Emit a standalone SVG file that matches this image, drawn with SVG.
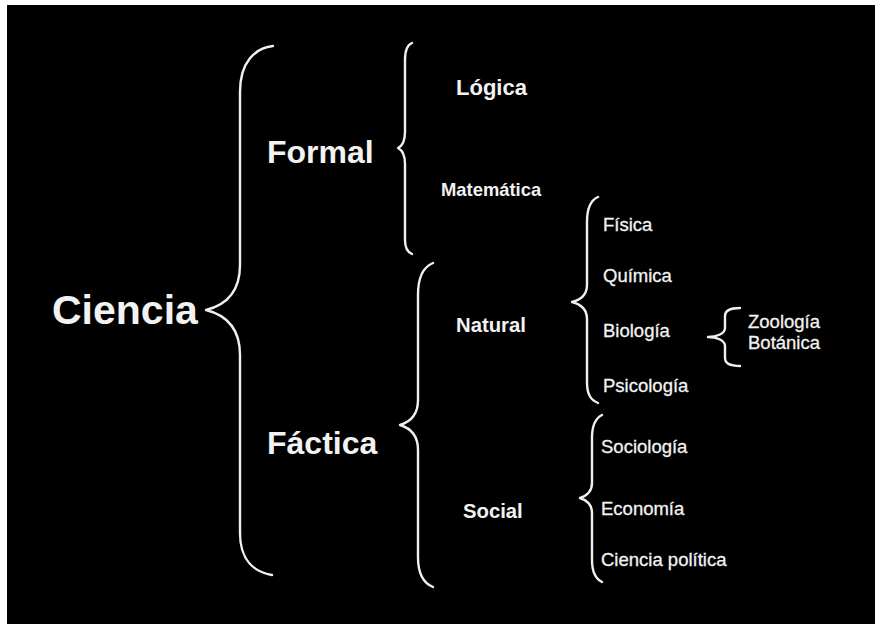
<svg xmlns="http://www.w3.org/2000/svg" width="875" height="624" viewBox="0 0 875 624">
<style>
.br{fill:none;stroke:#f0f0f0;stroke-width:2.4;stroke-linecap:round;stroke-linejoin:round}
text{font-family:"Liberation Sans",Arial,Helvetica,sans-serif;fill:#f2f2f2}
.b{font-weight:bold}
.r{font-size:18.5px;stroke:#f2f2f2;stroke-width:0.3}
</style>
<rect x="0" y="0" width="875" height="624" fill="#ffffff"/>
<rect x="7" y="5" width="868" height="619" fill="#000000"/>
<g id="connectors">
<path class="br" d="M273,46 C255,48 240,62 240,92 L240,265 C240,292 226,305 206,310 C226,315 240,328 240,355 L240,533 C240,560 254,572 272,575"/>
<path class="br" d="M412,43 C407,45 405,50 405,60 L405,132 C405,142 402,146 398,148 C402,150 405,154 405,164 L405,240 C405,248 407,252 412,254"/>
<path class="br" d="M433,263 C423,267 418,278 418,295 L418,400 C418,415 410,422 400,425 C410,428 418,435 418,450 L418,557 C418,574 423,583 433,587"/>
<path class="br" d="M598,197 C591,200 587,208 587,222 L587,285 C587,295 580,300 572,302 C580,304 587,309 587,319 L587,382 C587,395 591,400 598,403"/>
<path class="br" d="M602,415 C596,418 592,425 592,438 L592,483 C592,492 586,496 580,498 C586,500 592,504 592,513 L592,560 C592,573 596,579 602,582"/>
<path class="br" d="M740,308 C731,308 725,310 725,316 L725,328 C725,334 716,337 708,337 C716,337 725,340 725,346 L725,358 C725,364 731,366 740,366"/>
</g>
<g id="ciencia"><text class="b" x="52" y="324" font-size="41">Ciencia</text></g>
<g id="formal"><text class="b" x="267" y="163" font-size="32">Formal</text></g>
<g id="factica"><text class="b" x="267" y="454" font-size="32">Fáctica</text></g>
<g id="logica"><text class="b" x="456" y="95" font-size="22">Lógica</text></g>
<g id="matematica"><text class="b" x="441" y="196" font-size="18.4">Matemática</text></g>
<g id="natural"><text class="b" x="456" y="332" font-size="20.3">Natural</text></g>
<g id="social"><text class="b" x="463" y="518" font-size="20.3">Social</text></g>
<g id="fisica"><text class="r" x="603" y="231">Física</text></g>
<g id="quimica"><text class="r" x="603" y="282">Química</text></g>
<g id="biologia"><text class="r" x="603" y="337">Biología</text></g>
<g id="psicologia"><text class="r" x="603" y="392">Psicología</text></g>
<g id="zoologia"><text class="r" x="748" y="328">Zoología</text></g>
<g id="botanica"><text class="r" x="748" y="349">Botánica</text></g>
<g id="sociologia"><text class="r" x="601" y="453">Sociología</text></g>
<g id="economia"><text class="r" x="601" y="515">Economía</text></g>
<g id="ciencia-politica"><text class="r" x="601" y="566">Ciencia política</text></g>
</svg>
